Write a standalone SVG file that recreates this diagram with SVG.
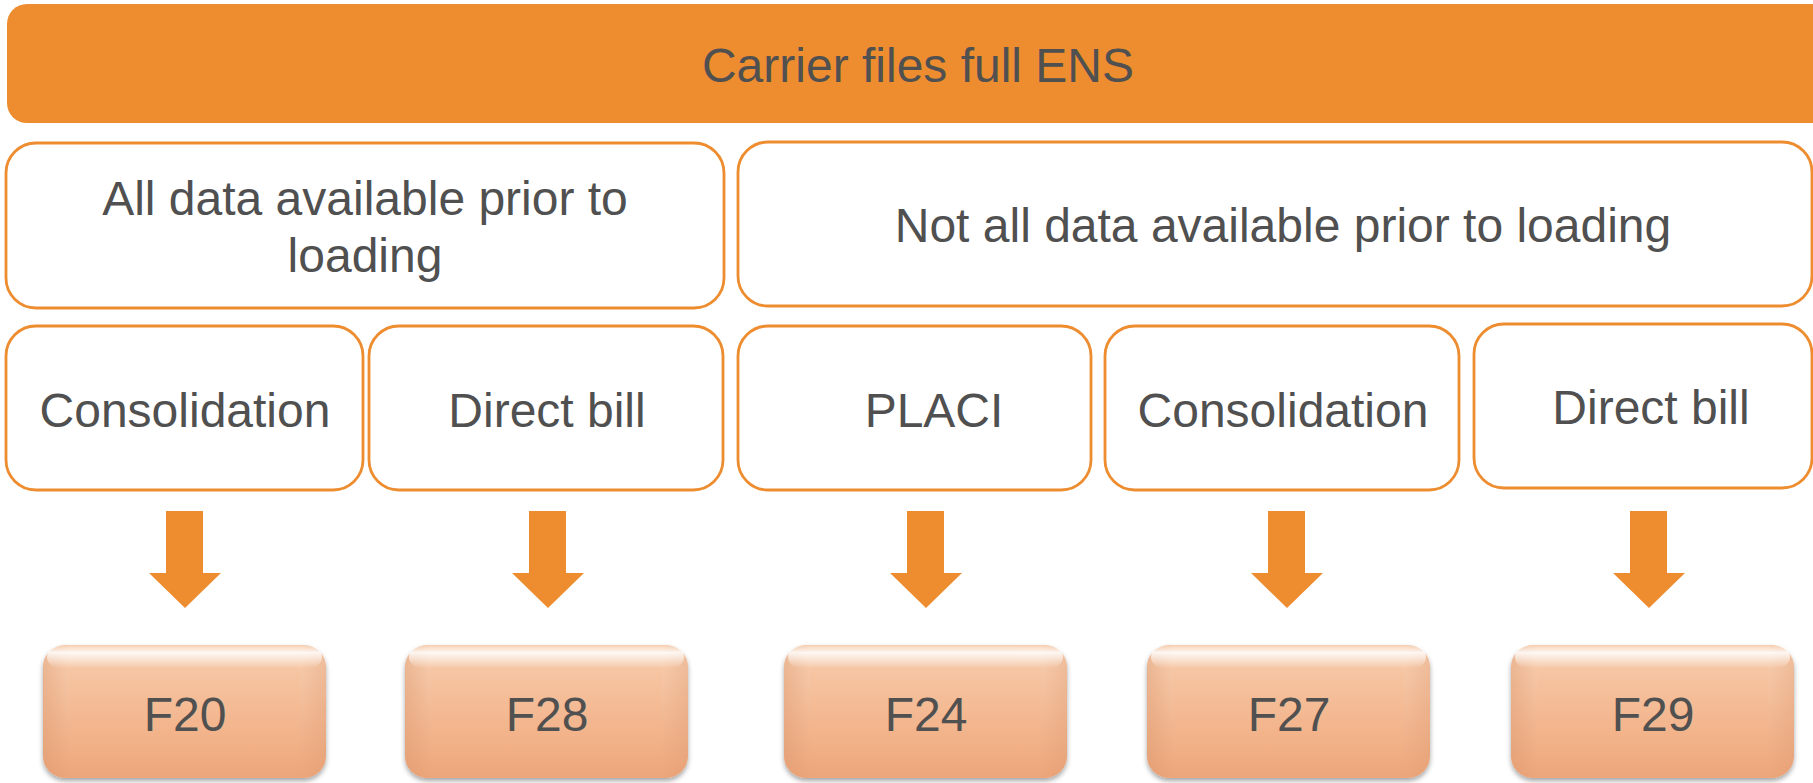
<svg xmlns="http://www.w3.org/2000/svg" width="1813" height="783" viewBox="0 0 1813 783">
  <style>
    .t { font-family: "Liberation Sans", Arial, sans-serif; font-size: 48px; fill: #505050; text-anchor: middle; }
    .box { fill: #ffffff; stroke: #ED8D30; stroke-width: 2.8; }
    .arrow { fill: #ED8D30; }
    .fbox { fill: url(#fgrad); filter: url(#shadow); }
    .fbevel { fill: url(#hilite); }
    .fface { fill: url(#face); }
  </style>
  <defs>
    <linearGradient id="fgrad" x1="0" y1="0" x2="0" y2="1">
      <stop offset="0" stop-color="#f9d3b6"/>
      <stop offset="1" stop-color="#eea67a"/>
    </linearGradient>
    <linearGradient id="face" x1="0" y1="0" x2="0" y2="1">
      <stop offset="0" stop-color="#f6c6a4"/>
      <stop offset="1" stop-color="#f1ad82"/>
    </linearGradient>
    <linearGradient id="hilite" x1="0" y1="0" x2="0" y2="1">
      <stop offset="0" stop-color="#ffffff" stop-opacity="0.15"/>
      <stop offset="0.3" stop-color="#ffffff" stop-opacity="0.85"/>
      <stop offset="1" stop-color="#ffffff" stop-opacity="0"/>
    </linearGradient>
    <linearGradient id="side" x1="0" y1="0" x2="1" y2="0">
      <stop offset="0" stop-color="#d9946a" stop-opacity="0.4"/>
      <stop offset="0.09" stop-color="#d9946a" stop-opacity="0.05"/>
      <stop offset="0.91" stop-color="#d9946a" stop-opacity="0.05"/>
      <stop offset="1" stop-color="#d9946a" stop-opacity="0.3"/>
    </linearGradient>
    <filter id="shadow" x="-10%" y="-10%" width="120%" height="130%">
      <feDropShadow dx="0" dy="3" stdDeviation="2.5" flood-color="#000000" flood-opacity="0.35"/>
    </filter>
    <g id="fshape">
      <rect class="fbox" x="0" y="0" width="283" height="133" rx="22"/>
      <rect x="0" y="0" width="283" height="133" rx="22" fill="url(#side)"/>
      <polygon class="fface" points="26,22 257,22 257,111 26,111"/>
      <rect class="fbevel" x="4" y="1" width="275" height="22" rx="12"/>
    </g>
  </defs>

  <g id="header">
    <rect x="7" y="4" width="1830" height="119" rx="20" fill="#ED8D30"/>
    <text class="t" x="918" y="82">Carrier files full ENS</text>
  </g>

  <g id="all-data">
    <rect class="box" x="6" y="143" width="718" height="165" rx="30"/>
    <text class="t" x="365" y="215">All data available prior to</text>
    <text class="t" x="365" y="272">loading</text>
  </g>
  <g id="not-all-data">
    <rect class="box" x="738" y="142" width="1074" height="164" rx="30"/>
    <text class="t" x="1283" y="242">Not all data available prior to loading</text>
  </g>

  <g id="consolidation-1">
    <rect class="box" x="6" y="326" width="357" height="164" rx="30"/>
    <text class="t" x="185" y="427">Consolidation</text>
  </g>
  <g id="direct-bill-1">
    <rect class="box" x="369" y="326" width="354" height="164" rx="30"/>
    <text class="t" x="547" y="427">Direct bill</text>
  </g>
  <g id="placi">
    <rect class="box" x="738" y="326" width="353" height="164" rx="30"/>
    <text class="t" x="934" y="427">PLACI</text>
  </g>
  <g id="consolidation-2">
    <rect class="box" x="1105" y="326" width="354" height="164" rx="30"/>
    <text class="t" x="1283" y="427">Consolidation</text>
  </g>
  <g id="direct-bill-2">
    <rect class="box" x="1474" y="324" width="338" height="164" rx="30"/>
    <text class="t" x="1651" y="424">Direct bill</text>
  </g>

  <g id="connectors">
    <polygon class="arrow" points="166,511 203,511 203,573 221,573 185,608 149,573 166,573"/>
    <polygon class="arrow" points="529,511 566,511 566,573 584,573 548,608 512,573 529,573"/>
    <polygon class="arrow" points="907,511 944,511 944,573 962,573 926,608 890,573 907,573"/>
    <polygon class="arrow" points="1268,511 1305,511 1305,573 1323,573 1287,608 1251,573 1268,573"/>
    <polygon class="arrow" points="1630,511 1667,511 1667,573 1685,573 1649,608 1613,573 1630,573"/>
  </g>

  <g id="F20">
    <use href="#fshape" x="43" y="645"/>
    <text class="t" x="185" y="731">F20</text>
  </g>
  <g id="F28">
    <use href="#fshape" x="405" y="645"/>
    <text class="t" x="547" y="731">F28</text>
  </g>
  <g id="F24">
    <use href="#fshape" x="784" y="645"/>
    <text class="t" x="926" y="731">F24</text>
  </g>
  <g id="F27">
    <use href="#fshape" x="1147" y="645"/>
    <text class="t" x="1289" y="731">F27</text>
  </g>
  <g id="F29">
    <use href="#fshape" x="1511" y="645"/>
    <text class="t" x="1653" y="731">F29</text>
  </g>
</svg>
